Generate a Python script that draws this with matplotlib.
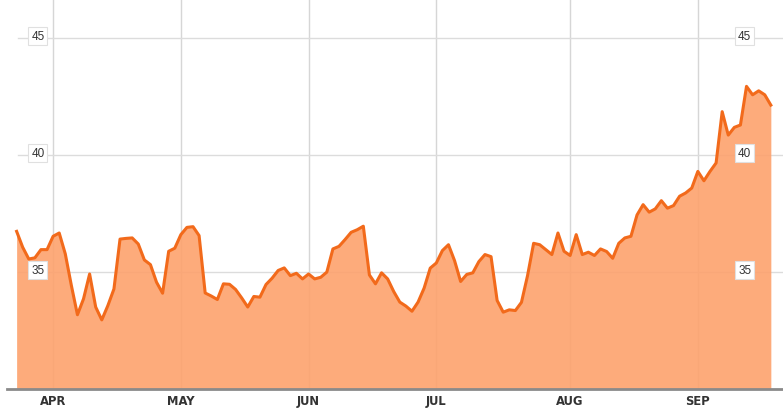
import matplotlib
matplotlib.use("Agg")
import matplotlib.pyplot as plt

values = [
    36.73, 36.05, 35.55, 35.60, 35.95, 35.95, 36.52, 36.66, 35.77, 34.42,
    33.17, 33.85, 34.91, 33.50, 32.95, 33.56, 34.27, 36.40, 36.43, 36.45,
    36.19, 35.51, 35.31, 34.56, 34.09, 35.88, 36.01, 36.59, 36.90, 36.93,
    36.55, 34.10, 33.97, 33.82, 34.49, 34.47, 34.25, 33.89, 33.50, 33.95,
    33.92, 34.46, 34.73, 35.06, 35.17, 34.84, 34.94, 34.70, 34.91, 34.70,
    34.77, 34.99, 35.98, 36.09, 36.38, 36.69, 36.80, 36.95, 34.87, 34.49,
    34.96, 34.70, 34.16, 33.71, 33.54, 33.32, 33.71, 34.31, 35.16, 35.38,
    35.91, 36.16, 35.48, 34.59, 34.89, 34.96, 35.44, 35.74, 35.65, 33.78,
    33.28, 33.38, 33.35, 33.70, 34.84, 36.22, 36.16, 35.95, 35.74, 36.66,
    35.88, 35.70, 36.59, 35.74, 35.84, 35.70, 35.98, 35.87, 35.58, 36.22,
    36.45, 36.52, 37.43, 37.87, 37.55, 37.69, 38.04, 37.72, 37.83, 38.23,
    38.37, 38.58, 39.29, 38.89, 39.29, 39.65, 41.84, 40.84, 41.17, 41.27,
    42.92, 42.56, 42.73, 42.56, 42.12,
]
month_labels = ["APR", "MAY", "JUN", "JUL", "AUG", "SEP"]
month_index = [6, 27, 48, 69, 91, 112]
y_ticks = [35, 40, 45]

x = list(range(len(values)))

fig = plt.figure(figsize=(7.83, 4.10), dpi=100)
ax = fig.add_axes([7.5 / 783, 20 / 410, 1 - 7.5 / 783, 390 / 410])
ax.set_xlim(-1.5, len(values) + 1.0)
ax.set_ylim(30.0, 46.65)

for m in month_index:
    ax.axvline(m, color="#D6D6D6", linewidth=1.0, zorder=0)
for t in y_ticks:
    ax.plot([0.2, len(values) + 1.0], [t, t], color="#DCDCDC", linewidth=1.0, zorder=0.5)
ax.fill_between(x, values, 30.0, color="#FDA26D", alpha=0.9, linewidth=0, zorder=1)
ax.plot(x, values, color="#F26A1B", linewidth=2.2, zorder=3, solid_joinstyle="round")

for s in ["top", "left", "right"]:
    ax.spines[s].set_visible(False)
ax.spines["bottom"].set_color("#8A8A8A")
ax.spines["bottom"].set_linewidth(2)
ax.set_yticks([])
ax.set_xticks(month_index)
ax.set_xticklabels(month_labels, fontsize=9.3, fontweight="bold", color="#333333",
                   fontstretch="condensed", family="DejaVu Sans")
ax.tick_params(axis="x", length=0, pad=3.5)

box = dict(boxstyle="square,pad=0.25", facecolor="white", edgecolor="#E0E0E0", linewidth=0.8)
for t in y_ticks:
    for xp in (3.5, 119.7):
        ax.text(xp, t + 0.07, str(t), fontsize=8.5, color="#333333", ha="center", va="center",
                bbox=box, zorder=5, family=["Liberation Sans", "DejaVu Sans"])

fig.savefig("out.png", dpi=100)
